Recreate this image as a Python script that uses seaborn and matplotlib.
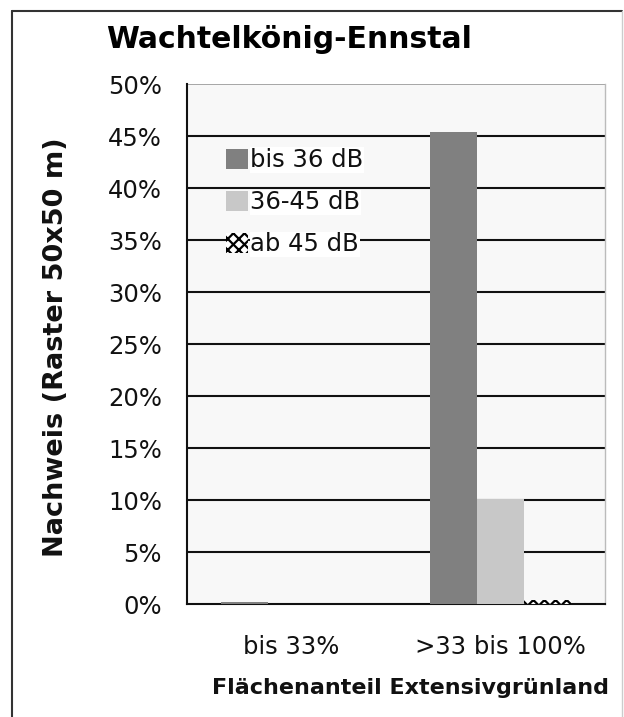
import matplotlib
matplotlib.use("Agg")
import matplotlib.pyplot as plt
import seaborn as sns
import pandas as pd
from matplotlib.patches import Patch
from matplotlib.lines import Line2D

categories = ["bis 33%", ">33 bis 100%"]
series_names = ["bis 36 dB", "36-45 dB", "ab 45 dB"]
vals_bis36 = [0.2, 45.4]
vals_36_45 = [0.0, 10.1]
vals_ab45 = [0.0, 0.4]
yticks = [0, 5, 10, 15, 20, 25, 30, 35, 40, 45, 50]

rows = []
for name, vals in zip(series_names, [vals_bis36, vals_36_45, vals_ab45]):
    for c, v in zip(categories, vals):
        rows.append({"cat": c, "series": name, "val": v})
df = pd.DataFrame(rows)

sns.set_style("white")
plt.rcParams['font.family'] = ['DejaVu Sans']
plt.rcParams['hatch.linewidth'] = 1.6

W, H = 624, 717
fig = plt.figure(figsize=(W / 100, H / 100), dpi=100)
ax = fig.add_axes([187 / W, 1 - 604 / H, (605 - 187) / W, (604 - 84) / H])
ax.set_facecolor("#f8f8f8")

colors = ["#808080", "#c8c8c8", "#ffffff"]
sns.barplot(data=df, x="cat", y="val", hue="series", hue_order=series_names,
            order=categories, palette=colors, width=0.675, ax=ax,
            legend=False, zorder=3, linewidth=0, saturation=1)
for p in ax.containers[2]:
    p.set_hatch("xxx")
    p.set_edgecolor("black")
    p.set_linewidth(0)

ax.set_ylim(0, 50)
ax.set_xlim(-0.5, 1.5)
ax.set_yticks(yticks)
ax.set_yticklabels([f"{t}%" for t in yticks], fontsize=17.5, color="#111111")
for t in yticks[1:-1]:
    ax.axhline(t, color="#111111", lw=1.5, zorder=1)
ax.axhline(50, color="#999999", lw=1.2, zorder=1)

ax.set_xticks([0, 1])
ax.set_xticklabels(categories, fontsize=17.5, color="#111111")
ax.set_xticks([-0.5, 0.5, 1.5], minor=True)
ax.tick_params(axis="x", which="major", length=0, pad=22)
ax.tick_params(axis="x", which="minor", length=9, width=1.5, color="#111111", direction="out")
ax.tick_params(axis="y", length=9, width=1.5, color="#111111", direction="out", pad=9)

for s in ["left", "bottom"]:
    ax.spines[s].set_color("#111111")
    ax.spines[s].set_linewidth(1.5)
ax.spines["top"].set_visible(False)
ax.spines["right"].set_color("#bbbbbb")
ax.spines["right"].set_linewidth(1.0)

ax.set_xlabel("")
ax.set_ylabel("")
fig.text(56 / W, 1 - 347 / H, "Nachweis (Raster 50x50 m)", rotation=90,
         ha="center", va="center", fontsize=19.5, fontweight="bold", color="#111111")
fig.text(411 / W, 1 - 688 / H, "Flächenanteil Extensivgrünland",
         ha="center", va="center", fontsize=16, fontweight="bold", color="#111111")
fig.text(289 / W, 1 - 40 / H, "Wachtelkönig-Ennstal",
         ha="center", va="center", fontsize=21.5, fontweight="bold", color="#000000")

handles = [Patch(facecolor=colors[0], edgecolor="none"),
           Patch(facecolor=colors[1], edgecolor="none"),
           Patch(facecolor="white", edgecolor="black", hatch="xxx", linewidth=0)]
leg = ax.legend(handles, series_names, loc="upper left",
                bbox_to_anchor=((226 - 187) / (605 - 187), 1 - (148 - 84) / 520),
                frameon=False, fontsize=17.5, handlelength=0.9, handleheight=0.9,
                handletextpad=0.1, labelspacing=0.75, borderpad=0, borderaxespad=0)
for t in leg.get_texts():
    t.set_color("#111111")
    t.set_bbox(dict(facecolor="white", edgecolor="none", pad=0.5))

# outer frame
fig.add_artist(Line2D([12 / W, 12 / W], [0, 1 - 11 / H], transform=fig.transFigure, color="#333333", lw=1.5))
fig.add_artist(Line2D([12 / W, 622 / W], [1 - 11 / H, 1 - 11 / H], transform=fig.transFigure, color="#333333", lw=1.5))
fig.add_artist(Line2D([622 / W, 622 / W], [0, 1 - 11 / H], transform=fig.transFigure, color="#cccccc", lw=1.0))

fig.savefig("out.png", dpi=100, facecolor="white")
